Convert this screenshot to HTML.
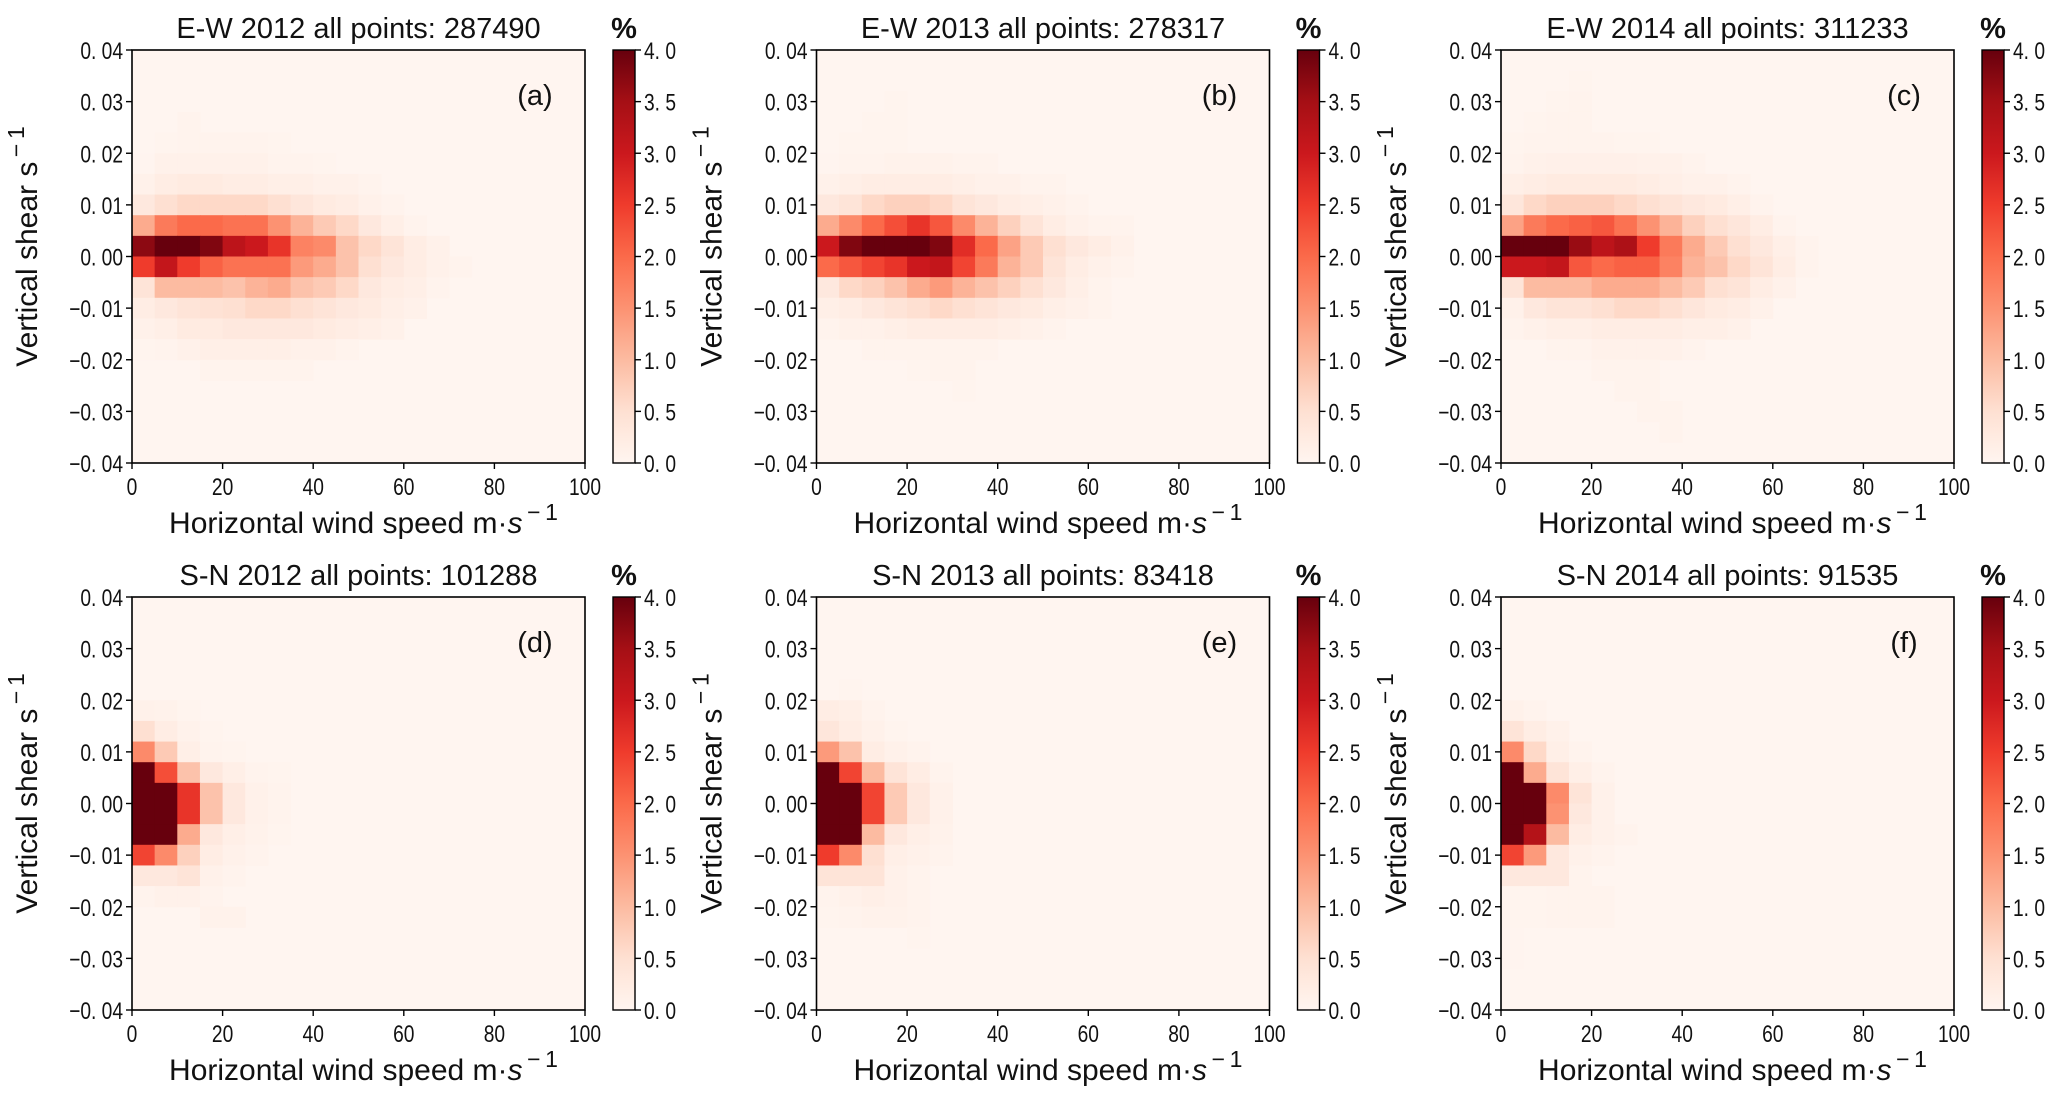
<!DOCTYPE html>
<html><head><meta charset="utf-8">
<style>
html,body{margin:0;padding:0;background:#fff;}
svg{display:block;font-family:"Liberation Sans",sans-serif;}
.tk{font-family:"Liberation Sans",sans-serif;font-size:24px;fill:#111;}
.ttl{font-size:29px;fill:#111;}
.lab{font-size:30px;fill:#111;}
</style></head>
<body>
<svg id="fig" width="2067" height="1102" viewBox="0 0 2067 1102" xmlns="http://www.w3.org/2000/svg"></svg>
<script>
// ---- data ----
const titles = ["E-W 2012 all points: 287490","E-W 2013 all points: 278317","E-W 2014 all points: 311233",
                "S-N 2012 all points: 101288","S-N 2013 all points: 83418","S-N 2014 all points: 91535"];
const panelLetters = ["(a)","(b)","(c)","(d)","(e)","(f)"];
const xTicks = [0,20,40,60,80,100];
const yTicks = [0.04,0.03,0.02,0.01,0.00,-0.01,-0.02,-0.03,-0.04];
const yTickLabels = ["0. 04","0. 03","0. 02","0. 01","0. 00","\u22120. 01","\u22120. 02","\u22120. 03","\u22120. 04"];
const cbTicks = [0,0.5,1,1.5,2,2.5,3,3.5,4];
const cbTickLabels = ["0. 0","0. 5","1. 0","1. 5","2. 0","2. 5","3. 0","3. 5","4. 0"];
// rows: index 0 = top bin (0.036..0.04); columns: 5 m/s bins from 0; missing = 0
const gridA = [[],[],[],[0,0,0.05],[0,0.03,0.05,0.05,0.05,0.05,0.03],
 [0.02,0.1,0.1,0.1,0.1,0.1,0.05,0.05,0.03],
 [0.1,0.2,0.25,0.25,0.2,0.2,0.15,0.15,0.1,0.1,0.05],
 [0.3,0.5,0.6,0.6,0.6,0.6,0.5,0.35,0.25,0.2,0.1,0.05],
 [1.2,1.8,2.0,2.0,1.9,1.9,1.5,1.1,0.8,0.6,0.3,0.15,0.05],
 [3.7,4.5,4.5,3.8,3.2,3.0,2.6,1.7,1.6,0.9,0.6,0.4,0.2,0.1],
 [2.5,3.1,2.5,2.1,1.9,1.9,1.9,1.4,1.2,0.9,0.5,0.3,0.2,0.1,0.05],
 [0.4,1.0,1.0,1.0,0.9,1.1,1.2,0.9,0.8,0.6,0.3,0.2,0.15,0.05],
 [0.2,0.3,0.4,0.45,0.5,0.6,0.6,0.5,0.4,0.3,0.25,0.15,0.1],
 [0.1,0.15,0.25,0.25,0.3,0.3,0.3,0.3,0.25,0.2,0.15,0.1],
 [0.03,0.05,0.1,0.15,0.15,0.15,0.15,0.1,0.1,0.05],
 [0,0,0,0.05,0.05,0.05,0.05,0.05],[],[],[],[]];
const gridB = [[],[],[0,0,0,0.03],[0,0,0.03,0.03],[0,0.03,0.03,0.03],
 [0.02,0.05,0.05,0.08,0.08,0.08,0.05,0.05],
 [0.1,0.15,0.2,0.2,0.2,0.2,0.15,0.1,0.1,0.05,0.05],
 [0.3,0.4,0.6,0.7,0.7,0.6,0.4,0.3,0.2,0.15,0.1,0.05],
 [1.2,1.6,2.0,2.3,2.6,2.2,1.6,1.1,0.7,0.4,0.2,0.1,0.05,0.05],
 [3.0,3.8,4.5,4.5,4.5,3.8,2.7,2.0,1.3,0.8,0.5,0.3,0.2,0.1],
 [2.0,2.2,2.4,2.6,3.0,3.1,2.4,1.8,1.1,0.8,0.4,0.2,0.1,0.05],
 [0.3,0.6,0.7,0.9,1.2,1.4,1.1,0.9,0.7,0.5,0.3,0.15,0.05],
 [0.15,0.2,0.3,0.4,0.5,0.6,0.5,0.4,0.3,0.25,0.15,0.1,0.05],
 [0.05,0.1,0.1,0.15,0.2,0.2,0.2,0.2,0.15,0.1,0.05],
 [0,0,0.05,0.05,0.05,0.05,0.05,0.05],
 [0,0,0,0,0.03,0.05,0.05],[0,0,0,0,0,0,0.03],[],[],[]];
const gridC = [[],[0,0,0,0.03],[0,0,0.03,0.05],[0,0.03,0.05,0.05],[0.03,0.05,0.05,0.05,0.05,0.03,0.03],
 [0.05,0.1,0.12,0.12,0.12,0.12,0.1,0.1,0.05],
 [0.15,0.2,0.25,0.25,0.25,0.25,0.2,0.15,0.1,0.1,0.05],
 [0.35,0.6,0.7,0.7,0.7,0.6,0.5,0.4,0.3,0.25,0.15,0.05],
 [1.3,1.8,2.0,2.1,2.2,1.9,1.5,1.1,0.7,0.5,0.35,0.2,0.05],
 [4.5,4.5,4.5,3.6,3.2,3.4,2.5,1.8,1.2,0.8,0.5,0.3,0.15,0.05],
 [3.0,3.0,3.1,2.2,2.0,2.1,2.1,1.7,1.1,0.9,0.6,0.4,0.2,0.05],
 [0.4,1.0,1.0,1.0,1.2,1.2,1.2,1.0,0.8,0.5,0.4,0.2,0.1],
 [0.1,0.3,0.4,0.4,0.5,0.6,0.6,0.5,0.35,0.25,0.2,0.1],
 [0.05,0.1,0.15,0.15,0.2,0.2,0.2,0.2,0.15,0.15,0.1],
 [0,0,0.05,0.05,0.1,0.1,0.1,0.1,0.05],
 [0,0,0,0,0.05,0.05,0.05],[0,0,0,0,0,0.05,0.05],[0,0,0,0,0,0,0.05,0.05],[0,0,0,0,0,0,0,0.05],[]];
const gridD = [[],[],[],[],[],[0.1,0.08,0.03],[0.5,0.2,0.08,0.03],[1.6,0.8,0.15,0.05,0.03],
 [4.5,2.3,0.9,0.3,0.15,0.05,0.03],[4.5,4.5,2.6,0.9,0.3,0.1,0.05],[4.5,4.5,2.6,0.9,0.3,0.1,0.05],
 [4.5,4.5,1.2,0.3,0.15,0.08,0.03],[2.4,1.6,0.7,0.2,0.1,0.05],[0.3,0.3,0.4,0.1,0.05],
 [0.05,0.1,0.1,0.05],[0,0,0,0.08,0.08],[],[],[],[]];
const gridE = [[],[],[],[],[0,0.03],[0.2,0.15,0.05],[0.35,0.2,0.1,0.03],[1.4,0.9,0.2,0.1,0.05],
 [4.5,2.4,1.0,0.4,0.2,0.05],[4.5,4.5,2.4,0.8,0.3,0.1],[4.5,4.5,2.4,0.8,0.3,0.1],
 [4.5,4.5,1.0,0.3,0.15,0.08],[2.5,1.6,0.5,0.15,0.1,0.05],[0.4,0.4,0.4,0.1,0.05],
 [0.05,0.1,0.15,0.1,0.05],[0.03,0.05,0.08,0.08,0.05],[0,0,0,0,0.03],[],[],[]];
const gridF = [[],[],[],[],[],[0.1,0.05],[0.4,0.2,0.1],[1.6,0.6,0.15,0.05],
 [4.5,1.2,0.4,0.15,0.05],[4.5,4.5,1.6,0.4,0.1],[4.5,4.5,1.5,0.3,0.1],
 [4.5,3.3,1.0,0.2,0.1,0.05],[2.4,1.4,0.3,0.1,0.05],[0.3,0.3,0.3,0.05],
 [0.03,0.03,0.05,0.05,0.05],[0.03,0.03,0.05,0.05,0.05],[0.02],[0.02],[],[]];
const grids = [gridA,gridB,gridC,gridD,gridE,gridF];
const xBinWidth = 5, yBinHeight = 0.004, xMin = 0, xMax = 100, yMin = -0.04, yMax = 0.04, vMax = 4;

// ---- helpers ----
const NS = "http://www.w3.org/2000/svg";
const svg = document.getElementById("fig");
function mk(tag, attrs, parent, text){
  const e = document.createElementNS(NS, tag);
  for (const k in attrs) e.setAttribute(k, attrs[k]);
  if (text !== undefined) e.textContent = text;
  (parent||svg).appendChild(e);
  return e;
}
const stops = [[255,245,240],[254,224,210],[252,187,161],[252,146,114],[251,106,74],[239,59,44],[203,24,29],[165,15,21],[103,0,13]];
function reds(v){
  let t = Math.max(0, Math.min(1, v / vMax)) * 8;
  const i = Math.min(7, Math.floor(t)); const f = t - i;
  const a = stops[i], b = stops[i+1];
  return "rgb(" + [0,1,2].map(k => Math.round(a[k] + (b[k]-a[k])*f)).join(",") + ")";
}
const NARROW = 0.8;

const W = 453, H = 413;
const lefts = [132, 816.5, 1501];
const tops = [50, 597];

grids.forEach((grid, p) => {
  const L = lefts[p % 3], T = tops[Math.floor(p / 3)];
  const sx = v => L + (v - xMin) / (xMax - xMin) * W;
  const sy = v => T + (yMax - v) / (yMax - yMin) * H;
  const g = mk("g", {});
  
  
  const bg = mk("rect", {x:L, y:T, width:W, height:H, fill:reds(0)}, g);
  
  
  const nRows = Math.round((yMax - yMin) / yBinHeight);
  const nCols = Math.round((xMax - xMin) / xBinWidth);
  for (let r = 0; r < nRows; r++) {
    const row = grid[r] || [];
    for (let c = 0; c < nCols; c++) {
      const v = row[c] || 0;
      if (v <= 0) continue;
      const x0 = sx(xMin + c * xBinWidth), x1 = sx(xMin + (c+1) * xBinWidth);
      const yTop = sy(yMax - r * yBinHeight), yBot = sy(yMax - (r+1) * yBinHeight);
      const cell = mk("rect", {x:x0, y:yTop, width:x1-x0+0.5, height:yBot-yTop+0.5, fill:reds(v)}, g);
      
      
    }
  }
  const frame = mk("rect", {x:L, y:T, width:W, height:H, fill:"none", stroke:"#000", "stroke-width":1.6}, g);
  
  
  xTicks.forEach(v => {
    const x = sx(v);
    mk("line", {x1:x, x2:x, y1:T+H, y2:T+H+6, stroke:"#000", "stroke-width":1.4}, g);
    const t = mk("text", {"text-anchor":"middle", class:"tk", transform:"translate(" + x + "," + (T+H+32) + ") scale(" + NARROW + ",1)"}, g, String(v));
    
    
  });
  yTicks.forEach((v, i) => {
    const y = sy(v);
    mk("line", {x1:L-6, x2:L, y1:y, y2:y, stroke:"#000", "stroke-width":1.4}, g);
    const t = mk("text", {"text-anchor":"end", class:"tk", transform:"translate(" + (L-9) + "," + (y+9) + ") scale(" + NARROW + ",1)"}, g, yTickLabels[i]);
    
    
  });
  const tt = mk("text", {x:L+W/2, y:T-12, "text-anchor":"middle", class:"ttl"}, g, titles[p]);
  
  
  const pl = mk("text", {x:L+W-50, y:T+55, "text-anchor":"middle", class:"ttl"}, g, panelLetters[p]);
  
  
  const xl = mk("text", {x:L+W/2+5, y:T+H+70, "text-anchor":"middle", class:"lab"}, g);
  
  
  mk("tspan", {}, xl, "Horizontal wind speed  m\u00b7");
  mk("tspan", {"font-style":"italic"}, xl, "s");
  mk("tspan", {dy:-13, "font-size":23}, xl, "\u2009\u2212\u20091");
  const yl = mk("text", {x:0, y:0, "text-anchor":"middle", class:"lab", transform:"translate(" + (L-95) + "," + (T+H/2-10) + ") rotate(-90)"}, g);
  
  
  mk("tspan", {}, yl, "Vertical shear  s");
  mk("tspan", {dy:-13, "font-size":23}, yl, "\u2009\u2212\u20091");
  const cbX = L + 481, cbW = 22;
  const gradId = "grad" + p;
  const defs = mk("defs", {}, g);
  const lg = mk("linearGradient", {id:gradId, x1:0, y1:1, x2:0, y2:0}, defs);
  for (let k = 0; k <= 16; k++) mk("stop", {offset:(k/16), "stop-color":reds(k/16*vMax)}, lg);
  const cb = mk("rect", {x:cbX, y:T, width:cbW, height:H, fill:"url(#" + gradId + ")", stroke:"#000", "stroke-width":1.4}, g);
  
  
  const cy = v => T + H - v / vMax * H;
  cbTicks.forEach((v, i) => {
    const y = cy(v);
    mk("line", {x1:cbX+cbW, x2:cbX+cbW+6, y1:y, y2:y, stroke:"#000", "stroke-width":1.4}, g);
    const t = mk("text", {class:"tk", transform:"translate(" + (cbX+cbW+9) + "," + (y+9) + ") scale(" + NARROW + ",1)"}, g, cbTickLabels[i]);
    
    
  });
  const pc = mk("text", {x:cbX+cbW/2, y:T-12, "text-anchor":"middle", class:"ttl", "font-weight":"bold"}, g, "%");
  
  
});
</script>
</body></html>
